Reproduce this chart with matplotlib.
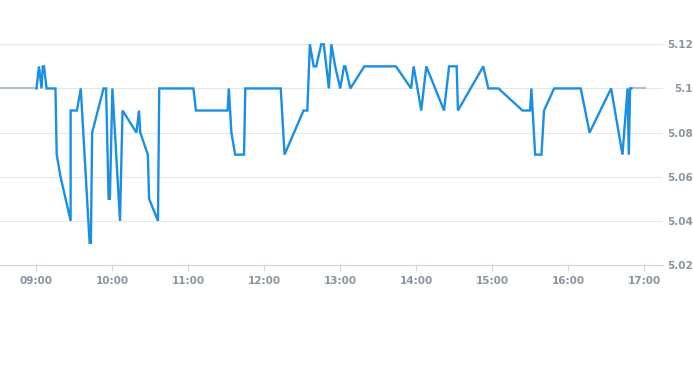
import numpy as np
import matplotlib.pyplot as plt

# intraday prices (time, price)
times = ['09:00', '09:02', '09:04', '09:05', '09:06', '09:08', '09:15', '09:16', '09:19', '09:27',
         '09:27', '09:32', '09:35', '09:42', '09:43', '09:44', '09:53', '09:55', '09:57', '09:58',
         '10:00', '10:06', '10:08', '10:19', '10:21', '10:22', '10:28', '10:29', '10:36', '10:37',
         '11:04', '11:06', '11:31', '11:32', '11:34', '11:37', '11:44', '11:45', '12:13', '12:16',
         '12:31', '12:34', '12:36', '12:39', '12:41', '12:45', '12:47', '12:51', '12:53', '12:56',
         '13:00', '13:03', '13:04', '13:08', '13:19', '13:44', '13:56', '13:58', '14:04', '14:08',
         '14:22', '14:26', '14:32', '14:33', '14:53', '14:57', '15:05', '15:24', '15:30', '15:31',
         '15:34', '15:39', '15:41', '15:49', '16:10', '16:17', '16:34', '16:43', '16:47', '16:48',
         '16:49', '16:50']
prices = [5.10, 5.11, 5.10, 5.11, 5.11, 5.10, 5.10, 5.07, 5.06, 5.04,
          5.09, 5.09, 5.10, 5.03, 5.03, 5.08, 5.10, 5.10, 5.05, 5.05,
          5.10, 5.04, 5.09, 5.08, 5.09, 5.08, 5.07, 5.05, 5.04, 5.10,
          5.10, 5.09, 5.09, 5.10, 5.08, 5.07, 5.07, 5.10, 5.10, 5.07,
          5.09, 5.09, 5.12, 5.11, 5.11, 5.12, 5.12, 5.10, 5.12, 5.11,
          5.10, 5.11, 5.11, 5.10, 5.11, 5.11, 5.10, 5.11, 5.09, 5.11,
          5.09, 5.11, 5.11, 5.09, 5.11, 5.10, 5.10, 5.09, 5.09, 5.10,
          5.07, 5.07, 5.09, 5.10, 5.10, 5.08, 5.10, 5.07, 5.10, 5.07,
          5.10, 5.10]
prev_close = 5.10
close_time = '17:01'

x_ticks = ['09:00', '10:00', '11:00', '12:00', '13:00', '14:00', '15:00', '16:00', '17:00']
y_ticks = [5.02, 5.04, 5.06, 5.08, 5.1, 5.12]
y_labels = ['5.02', '5.04', '5.06', '5.08', '5.1', '5.12']


def hours(s):
    h, m = s.split(':')
    return int(h) + int(m) / 60


t = np.array([hours(s) for s in times])
p = np.array(prices)

fig = plt.figure(figsize=(6.93, 3.65), dpi=100)
ax = fig.add_axes([0, 100 / 365, 663 / 693, (265 - 44.3) / 365])

label_color = '#8a949e'
font = ['Liberation Sans Narrow', 'DejaVu Sans']

ax.set_xlim(8.52, 17.25)
ax.set_ylim(5.02, 5.12)

# grey flat segments before open and after close
ax.plot([8.52, t[0]], [prev_close, prev_close], color='#b4c0ca', lw=1.6, clip_on=False)
ax.plot([t[-1], hours(close_time)], [p[-1], p[-1]], color='#b4c0ca', lw=1.6, clip_on=False)
ax.plot(t, p, color='#1a8fe3', lw=1.7, clip_on=False, solid_joinstyle='miter')

for y in y_ticks[1:]:
    ax.axhline(y, color='#e6e6e6', lw=0.8, zorder=0)

for s in ['top', 'left', 'right']:
    ax.spines[s].set_visible(False)
ax.spines['bottom'].set_color('#ccd6eb')
ax.spines['bottom'].set_linewidth(0.8)

ax.set_xticks([hours(s) for s in x_ticks])
ax.set_xticklabels(x_ticks, color=label_color, fontsize=7.5, family=font, fontweight='bold')
ax.tick_params(axis='x', length=4, width=0.8, color='#ccd6eb', pad=4)

ax.yaxis.tick_right()
ax.set_yticks(y_ticks)
ax.set_yticklabels(y_labels, color=label_color, fontsize=7.5, family=font, fontweight='bold')
ax.tick_params(axis='y', length=0, pad=21.5)
for lab in ax.get_yticklabels():
    lab.set_horizontalalignment('right')

fig.savefig('out.png', dpi=100)
